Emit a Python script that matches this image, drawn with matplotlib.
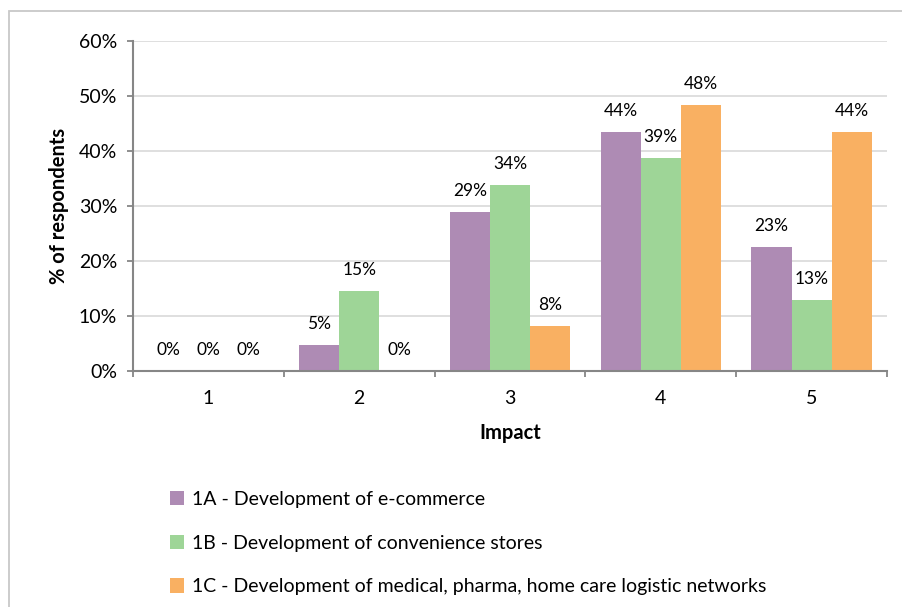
import matplotlib
matplotlib.use("Agg")
import matplotlib.pyplot as plt
from matplotlib.patches import Rectangle
import numpy as np

plt.rcParams['font.family'] = ['Lato', 'DejaVu Sans']

categories = ["1", "2", "3", "4", "5"]
series_names = [
    "1A - Development of e-commerce",
    "1B - Development of convenience stores",
    "1C - Development of medical, pharma, home care logistic networks",
]
vals_1a = [0.0, 4.8, 29.0, 43.5, 22.6]
vals_1b = [0.0, 14.5, 33.9, 38.7, 12.9]
vals_1c = [0.0, 0.0, 8.1, 48.4, 43.5]
labels_1a = ["0%", "5%", "29%", "44%", "23%"]
labels_1b = ["0%", "15%", "34%", "39%", "13%"]
labels_1c = ["0%", "0%", "8%", "48%", "44%"]
colors = ["#AE8BB4", "#9ED597", "#F9B062"]
yticks = [0, 10, 20, 30, 40, 50, 60]
ytick_labels = ["0%", "10%", "20%", "30%", "40%", "50%", "60%"]

W, H = 903, 607
fig = plt.figure(figsize=(W / 100, H / 100), dpi=100)

# outer chart border
fig.patches.append(Rectangle((9 / W, -0.05), 1.2, 1 - 11 / H + 0.05,
                             transform=fig.transFigure, fill=False,
                             edgecolor="#C8C8C8", linewidth=1.3))

ax = fig.add_axes([133 / W, 1 - 371 / H, (887 - 133) / W, (371 - 41) / H])

x = np.arange(len(categories))
bw = 0.266
series = [vals_1a, vals_1b, vals_1c]
labels = [labels_1a, labels_1b, labels_1c]
for i, (vals, labs) in enumerate(zip(series, labels)):
    pos = x + (i - 1) * bw
    ax.bar(pos, vals, width=bw, color=colors[i], label=series_names[i],
           zorder=3, edgecolor="none")
    for p, v, lab in zip(pos, vals, labs):
        ax.annotate(lab, (p, v), xytext=(0, 16), textcoords="offset pixels",
                    ha="center", va="baseline", fontsize=12.5, color="#000000")

ax.set_xlim(-0.5, 4.5)
ax.set_ylim(0, 60)
ax.set_yticks(yticks)
ax.set_yticklabels(ytick_labels)
ax.yaxis.grid(True, color="#D9D9D9", linewidth=1.2, zorder=0)
ax.set_axisbelow(True)

ax.set_xticks(x)
ax.set_xticklabels(categories)
ax.set_xticks(np.arange(-0.5, 5.0, 1.0), minor=True)
ax.tick_params(axis="x", which="major", length=0, pad=14, labelsize=14)
ax.tick_params(axis="x", which="minor", length=4.5, width=1.3, color="#868686")
ax.tick_params(axis="y", length=4.5, width=1.3, color="#868686", pad=7, labelsize=14)

for s in ["top", "right"]:
    ax.spines[s].set_visible(False)
for s in ["left", "bottom"]:
    ax.spines[s].set_color("#868686")
    ax.spines[s].set_linewidth(1.5)
    ax.spines[s].set_zorder(4)

ax.set_ylabel("% of respondents", fontsize=14.5, fontweight="bold", labelpad=7)
ax.set_xlabel("Impact", fontsize=14.5, fontweight="bold", labelpad=11)

leg = fig.legend(loc="upper left", bbox_to_anchor=(160 / W, 1 - 481 / H),
                 frameon=False, fontsize=14, handlelength=0.75, handleheight=0.75,
                 handletextpad=0.4, labelspacing=1.38, borderpad=0)

fig.savefig("out.png", dpi=100)
